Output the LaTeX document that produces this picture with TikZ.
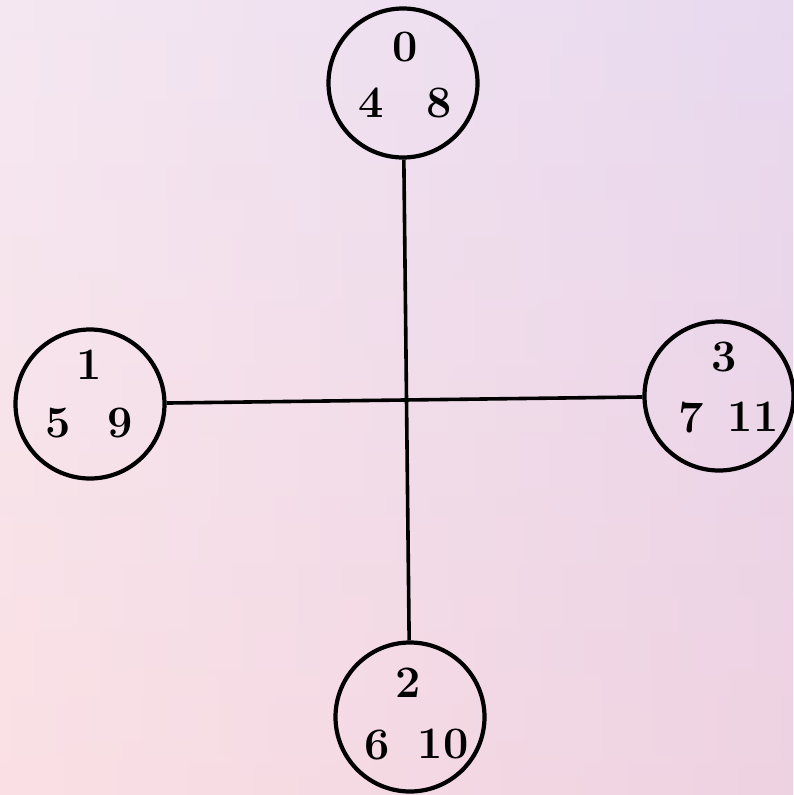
\documentclass[tikz,border=0pt]{standalone}
\definecolor{bgtop}{RGB}{238,226,244}
\definecolor{bgbot}{RGB}{248,214,222}
\definecolor{bgleft}{RGB}{255,240,238}
\definecolor{bgright}{RGB}{224,204,232}
\tikzset{
  ring/.style={circle,draw=black,line width=4.2pt,minimum size=149pt,inner sep=0pt},
  num/.style={inner sep=0pt,font=\fontsize{45}{45}\selectfont\bfseries},
  link/.style={line width=3.6pt,black}
}
\begin{document}
\begin{tikzpicture}[x=1pt,y=-1pt]
\useasboundingbox (0,0) rectangle (793,795);
\shade[top color=bgtop,bottom color=bgbot] (0,0) rectangle (793,795);
\shade[left color=bgleft,right color=bgright,opacity=0.4] (0,0) rectangle (793,795);
% circles
\node[ring] (c0) at (403,83) {};
\node[ring] (c1) at (90,404) {};
\node[ring] (c3) at (719,396) {};
\node[ring] (c2) at (410,717) {};
% connectors
\draw[link] (c0) -- (c2);
\draw[link] (c1) -- (c3);
% labels
\node[num] (t0) at (405,47) {0};
\node[num] (t4) at (371,103) {4};
\node[num] (t8) at (439,103) {8};
\node[num] (t1) at (89,365) {1};
\node[num] (t5) at (58,423) {5};
\node[num] (t9) at (120,423) {9};
\node[num] (t3) at (724,357) {3};
\node[num] (t7) at (691,418) {7};
\node[num] (t11) at (753,417) {11};
\node[num] (t2) at (408,683) {2};
\node[num] (t6) at (377,745) {6};
\node[num] (t10) at (443,744) {10};
\end{tikzpicture}
\end{document}
